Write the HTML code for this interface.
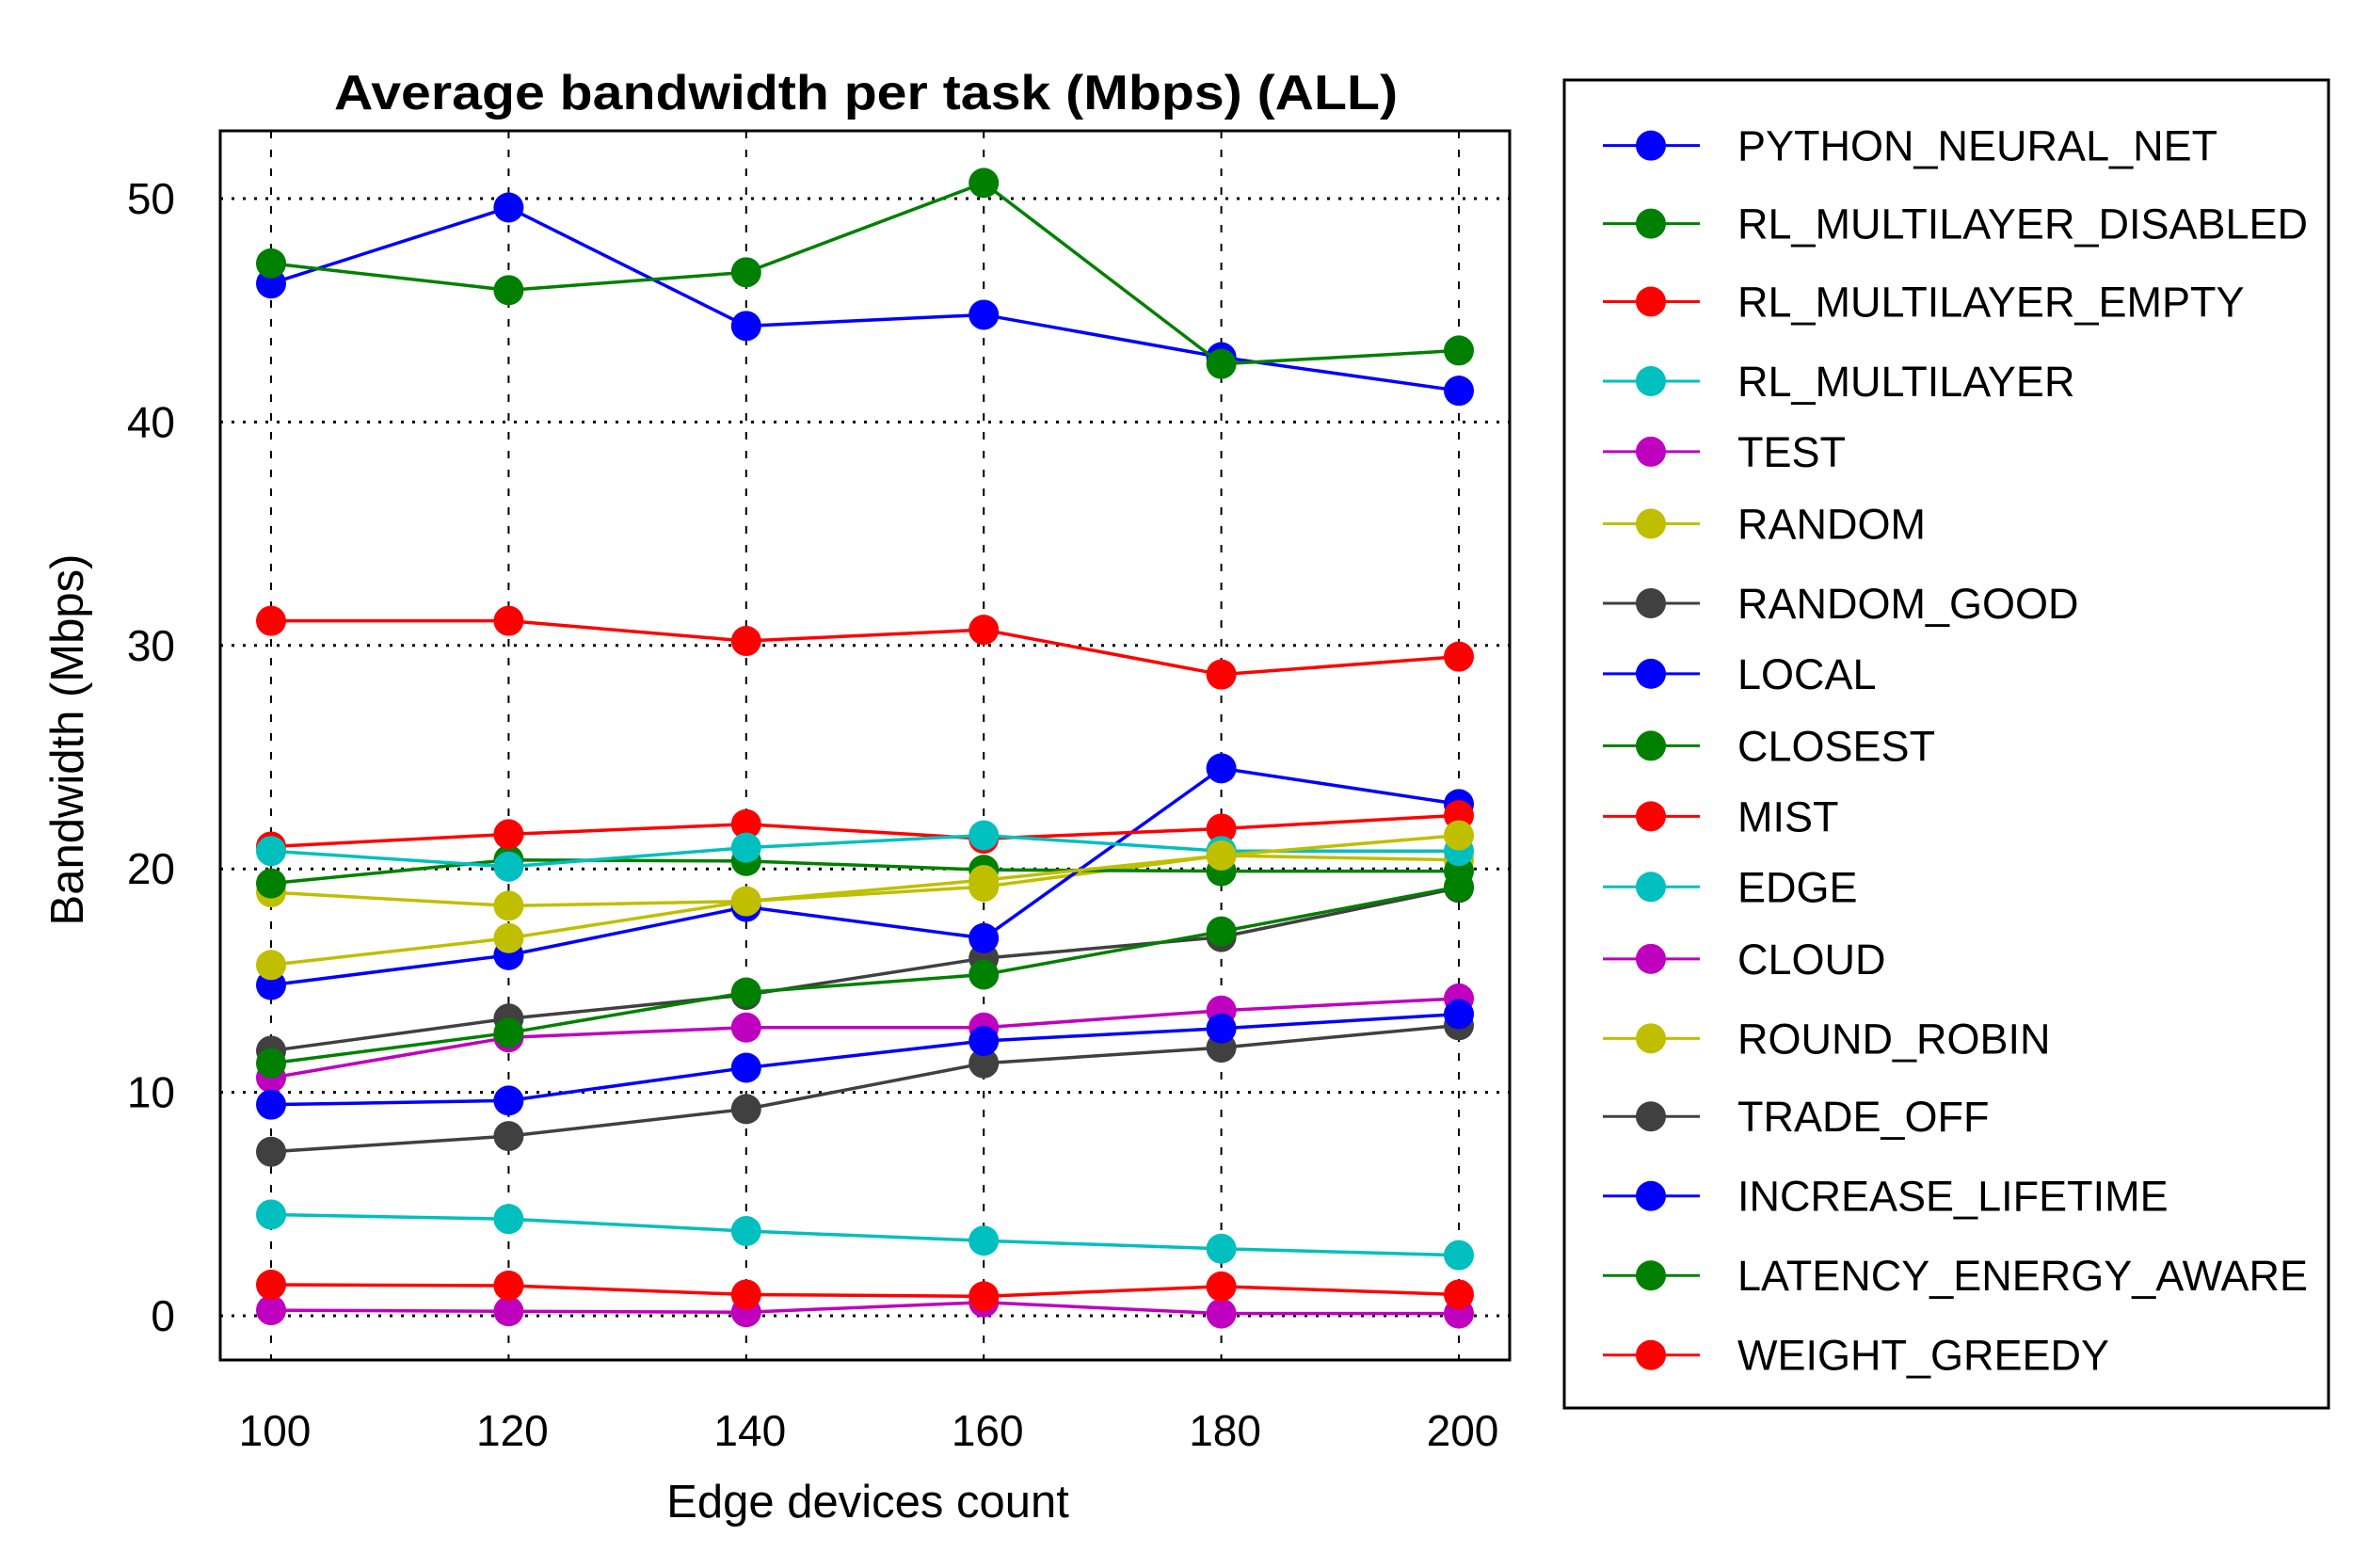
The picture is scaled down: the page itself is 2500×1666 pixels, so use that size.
<!DOCTYPE html>
<html><head><meta charset="utf-8"><style>html,body{margin:0;padding:0;background:#fff}svg{display:block}text{font-family:"Liberation Sans",sans-serif}</style></head>
<body>
<svg id="chart" width="2500" height="1666" viewBox="0 0 2500 1666" xmlns="http://www.w3.org/2000/svg">
<text x="920" y="116" font-size="52" font-weight="bold" text-anchor="middle" textLength="1130" lengthAdjust="spacingAndGlyphs">Average bandwidth per task (Mbps) (ALL)</text>
<g id="grid"></g>
<g id="series"></g>
<rect x="234" y="139" width="1370" height="1306" fill="none" stroke="#000" stroke-width="3"/>
<g id="ticks"></g>
<text x="922" y="1612" font-size="49" text-anchor="middle">Edge devices count</text>
<text x="0" y="0" font-size="49" text-anchor="middle" transform="translate(88,786) rotate(-90)">Bandwidth (Mbps)</text>
<rect x="1662" y="85" width="812" height="1411" fill="#fff" stroke="#000" stroke-width="3"/>
<g id="legend"></g>
</svg>
<script>
const categories = [100,120,140,160,180,200];
const yTicks = [0,10,20,30,40,50];
const seriesNames = ["PYTHON_NEURAL_NET","RL_MULTILAYER_DISABLED","RL_MULTILAYER_EMPTY","RL_MULTILAYER","TEST","RANDOM","RANDOM_GOOD","LOCAL","CLOSEST","MIST","EDGE","CLOUD","ROUND_ROBIN","TRADE_OFF","INCREASE_LIFETIME","LATENCY_ENERGY_AWARE","WEIGHT_GREEDY"];
const seriesColors = ["#0000ff","#008000","#ff0000","#00bfbf","#bf00bf","#bfbf00","#404040","#0000ff","#008000","#ff0000","#00bfbf","#bf00bf","#bfbf00","#404040","#0000ff","#008000","#ff0000"];
const vPython = [46.2,49.6,44.3,44.8,42.9,41.4];
const vRlDisabled = [47.1,45.9,46.7,50.7,42.6,43.2];
const vRlEmpty = [31.1,31.1,30.2,30.7,28.7,29.5];
const vRl = [4.53,4.33,3.79,3.36,3.0,2.71];
const vTest = [0.25,0.2,0.16,0.6,0.1,0.1];
const vRandom = [18.95,18.35,18.55,19.2,20.6,20.4];
const vRandomGood = [11.86,13.3,14.36,16.0,16.95,19.15];
const vLocal = [14.8,16.14,18.3,16.9,24.5,22.9];
const vClosest = [19.35,20.4,20.35,19.96,19.9,19.9];
const vMist = [21.0,21.55,22.0,21.35,21.8,22.4];
const vEdge = [20.8,20.1,20.95,21.5,20.8,20.8];
const vCloud = [10.65,12.46,12.9,12.9,13.66,14.2];
const vRoundRobin = [15.7,16.9,18.55,19.5,20.6,21.5];
const vTradeOff = [7.34,8.04,9.25,11.3,12.0,13.0];
const vIncrease = [9.45,9.63,11.1,12.3,12.86,13.5];
const vLatency = [11.3,12.66,14.47,15.27,17.2,19.2];
const vWeight = [1.39,1.35,0.95,0.87,1.31,0.95];
const allSeries = [vPython,vRlDisabled,vRlEmpty,vRl,vTest,vRandom,vRandomGood,vLocal,vClosest,vMist,vEdge,vCloud,vRoundRobin,vTradeOff,vIncrease,vLatency,vWeight];

const NS="http://www.w3.org/2000/svg";
const X0=288,X1=1550,Y0=1398,PPU=23.74;
const xScale=c=>X0+(c-categories[0])/(categories[categories.length-1]-categories[0])*(X1-X0);
const yScale=v=>Y0-v*PPU;
function mk(tag,parent,attrs){const e=document.createElementNS(NS,tag);for(const k in attrs)e.setAttribute(k,attrs[k]);parent.appendChild(e);return e;}
const grid=document.getElementById('grid'),ticks=document.getElementById('ticks');
yTicks.forEach(t=>{
  const y=yScale(t);
  const l=mk('line',grid,{x1:234,x2:1604,y1:y,y2:y,stroke:'#000','stroke-width':3,'stroke-dasharray':'3 9'});
  
  
  const tx=mk('text',ticks,{x:186,y:y+16,'font-size':46,'text-anchor':'end'});
  tx.textContent=t;
  
  
});
categories.forEach(c=>{
  const x=xScale(c);
  const l=mk('line',grid,{x1:x,x2:x,y1:139,y2:1445,stroke:'#000','stroke-width':2,'stroke-dasharray':'8 12'});
  
  
  const tx=mk('text',ticks,{x:x+4,y:1536,'font-size':46,'text-anchor':'middle'});
  tx.textContent=c;
  
  
});
const sg=document.getElementById('series');
allSeries.forEach((vals,i)=>{
  const g=mk('g',sg,{});
  
  
  const pts=vals.map((v,j)=>xScale(categories[j])+','+yScale(v)).join(' ');
  const pl=mk('polyline',g,{points:pts,fill:'none',stroke:seriesColors[i],'stroke-width':3.5});
  
  
  vals.forEach((v,j)=>{
    const c=mk('circle',g,{cx:xScale(categories[j]),cy:yScale(v),r:16,fill:seriesColors[i]});
    
    
  });
});
const legendY=[97,149,201,254,301,349,402,449,497,544,591,639,692,744,797,850,903];
const lg=document.getElementById('legend');
seriesNames.forEach((n,i)=>{
  const y=legendY[i]*1.5944;
  const g=mk('g',lg,{});
  
  
  mk('line',g,{x1:1703,x2:1806,y1:y,y2:y,stroke:seriesColors[i],'stroke-width':3});
  mk('circle',g,{cx:1754,cy:y,r:16,fill:seriesColors[i]});
  const t=mk('text',g,{x:1846,y:y+16,'font-size':45});
  t.textContent=n;
});
</script>
</body></html>
